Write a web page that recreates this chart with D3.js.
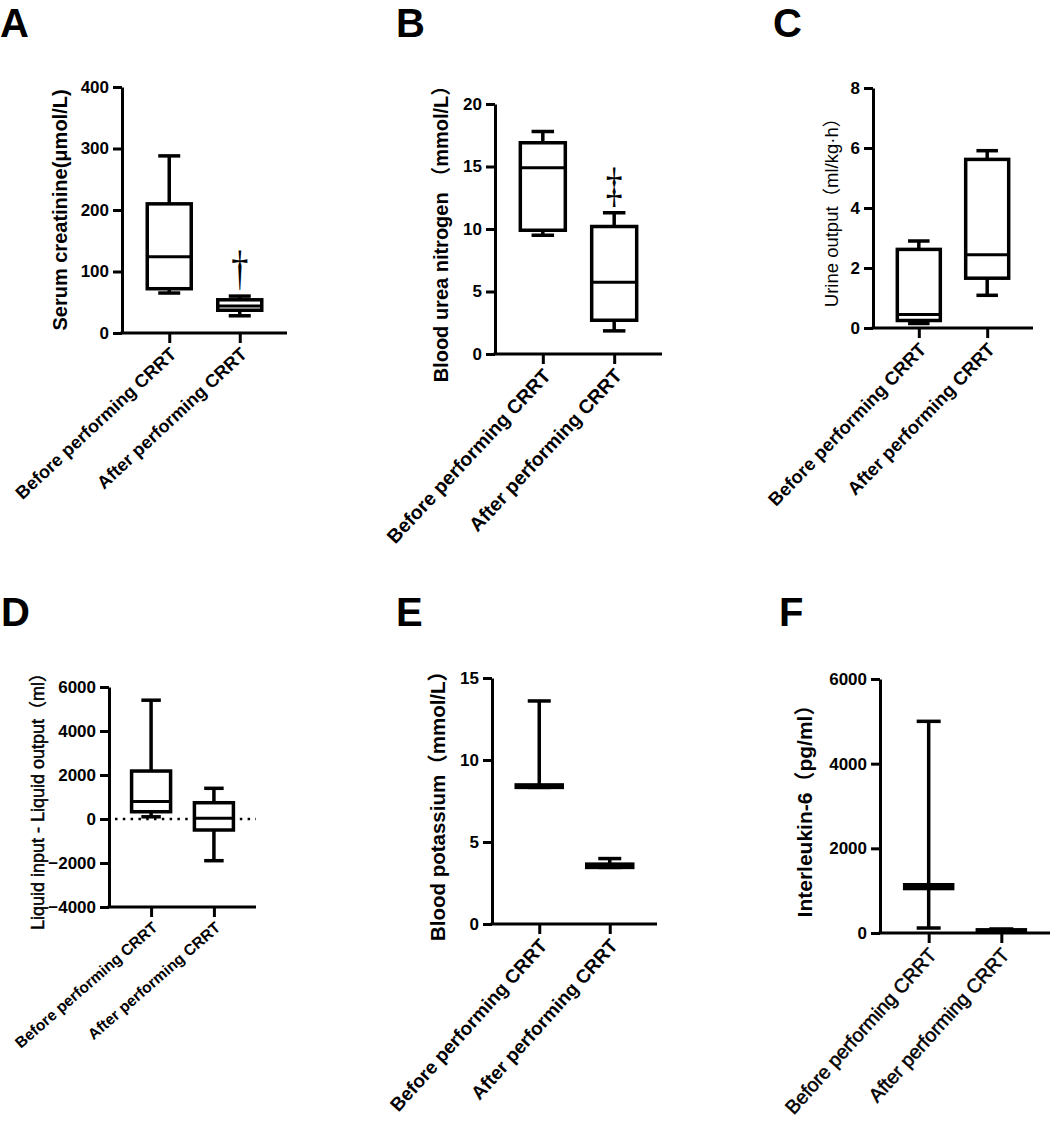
<!DOCTYPE html>
<html>
<head>
<meta charset="utf-8">
<script src="https://cdn.jsdelivr.net/npm/d3@7"></script>
<style>
  body { margin: 0; background: #fff; }
  svg { display: block; font-family: "Liberation Sans", Arial, "Noto Sans CJK SC", sans-serif; }
</style>
</head>
<body>
<script>
// groups on the x axis
var groups = ["Before performing CRRT", "After performing CRRT"];
var groupsSpaced = ["Before performing CRRT", "After performing  CRRT"];

// box values per group: [min, q1, median, q3, max]
var creatinine = [[65, 72, 124, 210, 288], [28, 37, 44, 54, 60]];
var urea = [[9.5, 9.9, 14.9, 16.9, 17.8], [1.85, 2.7, 5.75, 10.2, 11.3]];
var urine = [[0.15, 0.25, 0.45, 2.62, 2.9], [1.09, 1.66, 2.44, 5.62, 5.91]];
var fluid = [[100, 330, 790, 2180, 5400], [-1895, -500, 30, 740, 1395]];
var potassium = [[8.33, 8.33, 8.4, 8.48, 13.6], [3.45, 3.45, 3.55, 3.65, 3.99]];
var il6 = [[118, 1050, 1095, 1140, 5000], [20, 40, 55, 75, 95]];

// tick labels
var creatinineTicks = [0, 100, 200, 300, 400];
var ureaTicks = [0, 5, 10, 15, 20];
var urineTicks = [0, 2, 4, 6, 8];
var fluidTicks = [-4000, -2000, 0, 2000, 4000, 6000];
var potassiumTicks = [0, 5, 10, 15];
var il6Ticks = [0, 2000, 4000, 6000];

// significance marks above the "after" group
var creatinineMark = "\u2020";
var ureaMark = "\u2021";

var W = 1052, H = 1124;

var svg = d3.select("body").append("svg")
    .attr("width", W)
    .attr("height", H);

var panels = [
  {letter: "A", lx: 0, ly: 37, data: creatinine, ticks: creatinineTicks, cats: groups,
   x0: 122, x1: 287, yTop: 87, yBot: 333, bw: 44, ylab: "Serum creatinine(\u03bcmol/L)",
   labX: 60, labSize: 20, labWeight: "bold", catSize: 18, catWeight: "bold", catAngle: -43,
   mark: creatinineMark, markSize: 49, markDy: 12},
  {letter: "B", lx: 396, ly: 37, data: urea, ticks: ureaTicks, cats: groups,
   x0: 495, x1: 662, yTop: 104, yBot: 354, bw: 45, ylab: "Blood urea nitrogen \uff08mmol/L\uff09",
   labX: 441, labSize: 20, labWeight: "bold", catSize: 19.5, catWeight: "bold", catAngle: -47,
   mark: ureaMark, markSize: 48, markDy: 12},
  {letter: "C", lx: 773, ly: 37, data: urine, ticks: urineTicks, cats: groupsSpaced,
   x0: 873, x1: 1033, yTop: 88, yBot: 328, bw: 43, ylab: "Urine output\uff08ml/kg\u00b7h\uff09",
   labX: 832, labSize: 18.5, labWeight: "normal", catSize: 18.5, catWeight: "bold", catAngle: -46},
  {letter: "D", lx: 1, ly: 626, data: fluid, ticks: fluidTicks, cats: groups,
   x0: 109, x1: 256, yTop: 687, yBot: 907, bw: 39, ylab: "Liquid input - Liquid output\uff08ml\uff09",
   labX: 38, labSize: 18, labWeight: "semi", catSize: 15.5, catWeight: "bold", catAngle: -41,
   zeroLine: true},
  {letter: "E", lx: 396, ly: 626, data: potassium, ticks: potassiumTicks, cats: groups,
   x0: 492, x1: 657, yTop: 678, yBot: 924, bw: 46, ylab: "Blood potassium\uff08mmol/L\uff09",
   labX: 438, labSize: 20.5, labWeight: "bold", catSize: 19, catWeight: "bold", catAngle: -48},
  {letter: "F", lx: 779, ly: 626, data: il6, ticks: il6Ticks, cats: groupsSpaced,
   x0: 880, x1: 1050, yTop: 679, yBot: 933, bw: 48, ylab: "Interleukin-6\uff08pg/ml\uff09",
   labX: 805, labSize: 21, labWeight: "bold", catSize: 19.5, catWeight: "semi", catAngle: -48}
];

panels.forEach(drawPanel);

function drawPanel(p) {
  var g = svg.append("g");

  // panel letter
  g.append("text")
    .attr("x", p.lx)
    .attr("y", p.ly)
    .attr("font-size", 40)
    .attr("font-weight", "bold")
    .text(p.letter);

  var y = d3.scaleLinear()
    .domain(d3.extent(p.ticks))
    .range([p.yBot, p.yTop]);

  var x = d3.scalePoint()
    .domain(p.cats)
    .range([p.x0, p.x1])
    .padding(0.67);

  // y axis
  var yAxis = g.append("g")
    .attr("transform", "translate(" + p.x0 + ",0)")
    .call(d3.axisLeft(y).tickValues(p.ticks).tickFormat(d3.format("d"))
      .tickSize(9).tickSizeOuter(0).tickPadding(4));
  yAxis.selectAll("path, line").attr("stroke", "#000").attr("stroke-width", 3);
  yAxis.selectAll("text")
    .attr("font-size", 17)
    .attr("font-weight", "bold")
    .attr("font-family", "'Liberation Sans', Arial, sans-serif")
    .attr("fill", "#000");

  // x axis
  var xAxis = g.append("g")
    .attr("transform", "translate(0," + p.yBot + ")")
    .call(d3.axisBottom(x).tickSize(10).tickSizeOuter(0).tickFormat(""));
  xAxis.select(".domain").attr("d", "M" + (p.x0 - 1.5) + ",0H" + p.x1);
  xAxis.selectAll("path, line").attr("stroke", "#000").attr("stroke-width", 3);

  // rotated category labels
  g.selectAll(".cat")
    .data(p.cats)
    .enter().append("text")
    .attr("class", "cat")
    .attr("transform", function(d) {
      return "translate(" + (x(d) + 4) + "," + (p.yBot + 18) + ") rotate(" + p.catAngle + ")";
    })
    .attr("text-anchor", "end")
    .attr("dy", "0.35em")
    .attr("font-size", p.catSize)
    .attr("font-weight", p.catWeight == "semi" ? "normal" : p.catWeight)
    .attr("stroke", p.catWeight == "semi" ? "#000" : "none")
    .attr("stroke-width", 0.5)
    .text(function(d) { return d; });

  // y axis title
  g.append("text")
    .attr("transform", "translate(" + p.labX + "," + ((p.yTop + p.yBot) / 2) + ") rotate(-90)")
    .attr("text-anchor", "middle")
    .attr("dy", "0.35em")
    .attr("font-size", p.labSize)
    .attr("font-weight", p.labWeight == "semi" ? "normal" : p.labWeight)
    .attr("stroke", p.labWeight == "semi" ? "#000" : "none")
    .attr("stroke-width", 0.5)
    .text(p.ylab);

  // dotted zero line
  if (p.zeroLine) {
    g.append("line")
      .attr("x1", p.x0 + 6)
      .attr("x2", p.x1)
      .attr("y1", y(0))
      .attr("y2", y(0))
      .attr("stroke", "#000")
      .attr("stroke-width", 2.5)
      .attr("stroke-dasharray", "2.5,5.3");
  }

  // boxes
  var boxes = g.selectAll(".box")
    .data(p.data)
    .enter().append("g")
    .attr("class", "box")
    .attr("transform", function(d, i) { return "translate(" + x(p.cats[i]) + ",0)"; });

  boxes.append("line")
    .attr("y1", function(d) { return y(d[4]); })
    .attr("y2", function(d) { return y(d[3]); })
    .attr("stroke", "#000").attr("stroke-width", 3.5);
  boxes.append("line")
    .attr("y1", function(d) { return y(d[1]); })
    .attr("y2", function(d) { return y(d[0]); })
    .attr("stroke", "#000").attr("stroke-width", 3.5);
  // caps
  boxes.append("line")
    .attr("x1", -p.bw / 4).attr("x2", p.bw / 4)
    .attr("y1", function(d) { return y(d[4]); })
    .attr("y2", function(d) { return y(d[4]); })
    .attr("stroke", "#000").attr("stroke-width", 3.5);
  boxes.append("line")
    .attr("x1", -p.bw / 4).attr("x2", p.bw / 4)
    .attr("y1", function(d) { return y(d[0]); })
    .attr("y2", function(d) { return y(d[0]); })
    .attr("stroke", "#000").attr("stroke-width", 3.5);
  boxes.append("rect")
    .attr("x", -p.bw / 2)
    .attr("width", p.bw)
    .attr("y", function(d) { return y(d[3]); })
    .attr("height", function(d) { return y(d[1]) - y(d[3]); })
    .attr("fill", "#fff")
    .attr("stroke", "#000").attr("stroke-width", 3.5);
  boxes.append("line")
    .attr("x1", -p.bw / 2).attr("x2", p.bw / 2)
    .attr("y1", function(d) { return y(d[2]); })
    .attr("y2", function(d) { return y(d[2]); })
    .attr("stroke", "#000").attr("stroke-width", 3);

  // significance mark, narrowed like the original glyph
  if (p.mark) {
    var after = p.data[1];
    g.append("text")
      .attr("transform", "translate(" + x(p.cats[1]) + "," + (y(after[4]) - p.markDy) + ") scale(0.7,1)")
      .attr("text-anchor", "middle")
      .attr("font-family", "'Liberation Serif', 'Times New Roman', serif")
      .attr("font-size", p.markSize)
      .text(p.mark);
  }
}
</script>
</body>
</html>
